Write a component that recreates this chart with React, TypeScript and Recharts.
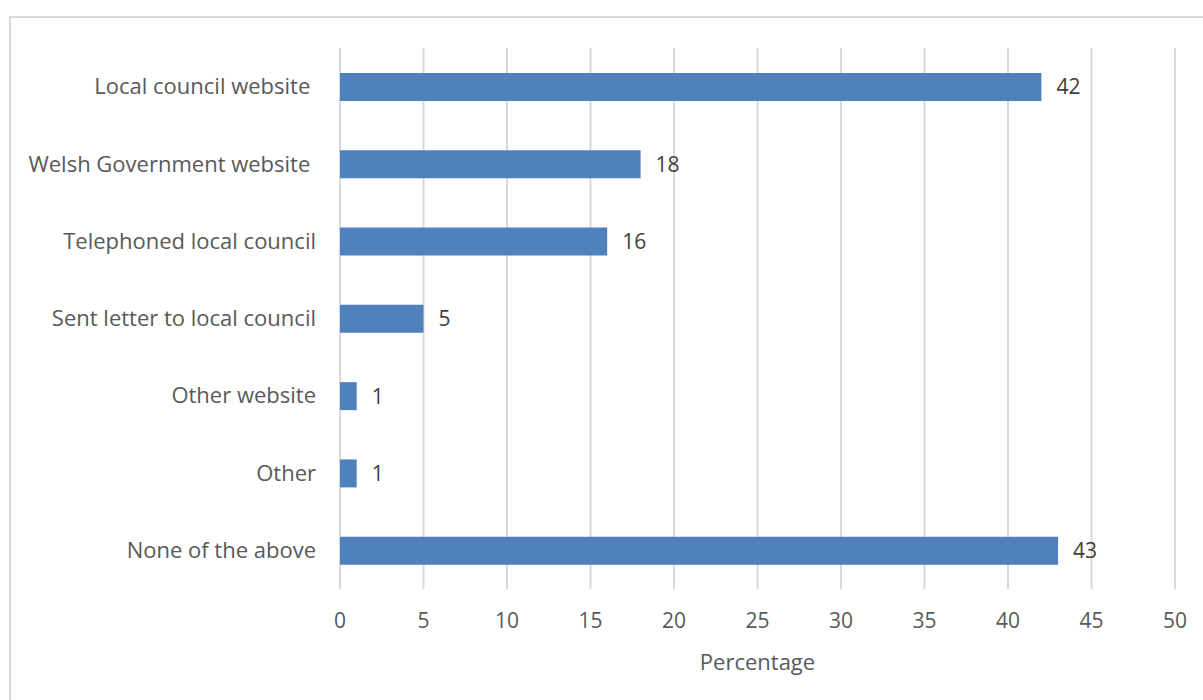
import { BarChart, Bar, XAxis, YAxis, CartesianGrid, LabelList } from "recharts";

const categories = [
  "Local council website ",
  "Welsh Government website ",
  "Telephoned local council",
  "Sent letter to local council",
  "Other website",
  "Other",
  "None of the above",
];
const percentages = [42, 18, 16, 5, 1, 1, 43];
const xTicks = [0, 5, 10, 15, 20, 25, 30, 35, 40, 45, 50];

const data = categories.map((name, i) => ({ name, value: percentages[i] }));

const FONT = "'Open Sans', sans-serif";

const CategoryTick = ({ x, y, payload }: any) => (
  <text
    x={x}
    y={y}
    dy="0.35em"
    textAnchor="end"
    fill="#595959"
    fontSize={22}
    fontFamily={FONT}
    style={{ whiteSpace: "pre" }}
  >
    {payload.value}
  </text>
);

export default function App() {
  return (
    <div
      style={{
        position: "absolute",
        left: 0,
        top: 0,
        width: 1203,
        height: 700,
        overflow: "hidden",
        background: "#fff",
      }}
    >
      <div
        style={{
          position: "absolute",
          left: 9,
          top: 16,
          width: 1240,
          height: 740,
          border: "2px solid #d9d9d9",
        }}
      />
      <div style={{ position: "absolute", left: 0, top: 0 }}>
        <BarChart
          width={1203}
          height={700}
          data={data}
          layout="vertical"
          margin={{ top: 48, right: 28, bottom: 0, left: 0 }}
        >
          <CartesianGrid horizontal={false} stroke="#d9d9d9" strokeWidth={2} />
          <XAxis
            type="number"
            domain={[0, 50]}
            ticks={xTicks}
            interval={0}
            axisLine={false}
            tickLine={false}
            tickSize={0}
            tickMargin={24}
            height={111}
            tick={{ fill: "#595959", fontSize: 21, fontFamily: FONT }}
            label={{
              value: "Percentage",
              position: "insideBottom",
              offset: 30,
              fill: "#595959",
              fontSize: 22,
              fontFamily: FONT,
            }}
          />
          <YAxis
            type="category"
            dataKey="name"
            width={340}
            axisLine={false}
            tickLine={false}
            tickSize={0}
            tickMargin={24}
            interval={0}
            tick={<CategoryTick />}
          />
          <Bar dataKey="value" fill="#4f81bd" barSize={28} isAnimationActive={false}>
            <LabelList
              dataKey="value"
              position="right"
              offset={15}
              fill="#404040"
              fontSize={21}
              fontFamily={FONT}
            />
          </Bar>
        </BarChart>
      </div>
    </div>
  );
}
